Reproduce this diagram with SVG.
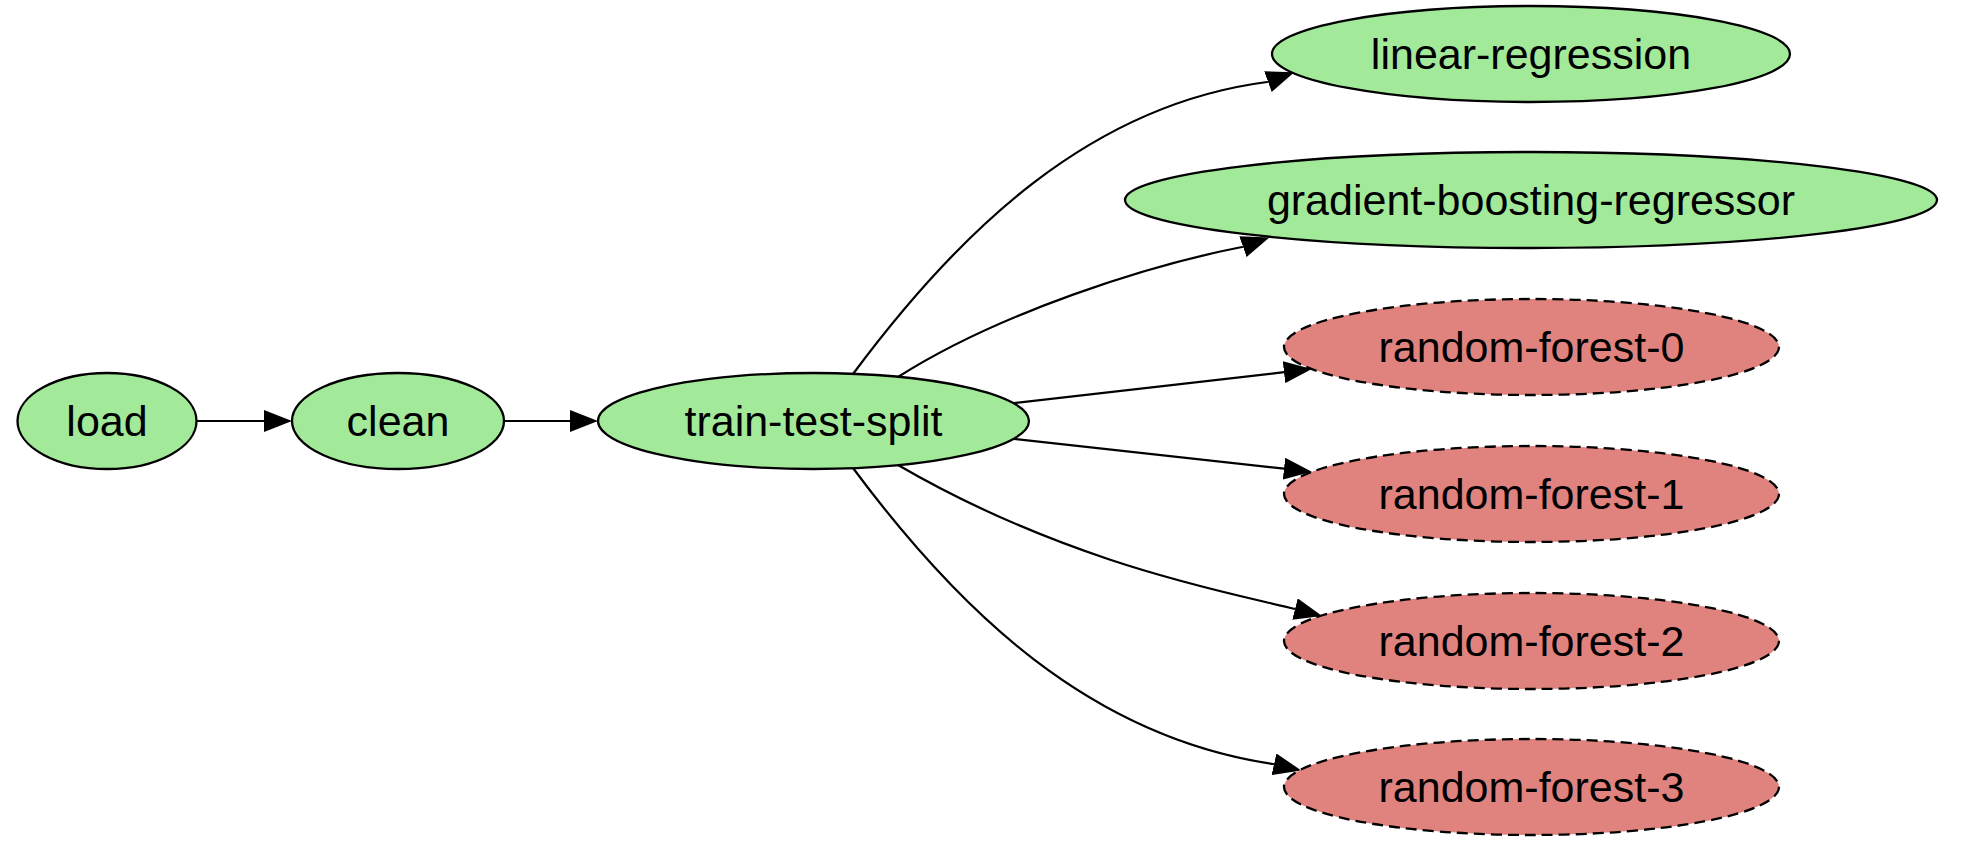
<svg xmlns="http://www.w3.org/2000/svg" width="1978" height="852" viewBox="0 0 1978 852">
<style>
.n ellipse{stroke:#000;stroke-width:2.3}
.ok ellipse{fill:#a3e99a}
.bad ellipse{fill:#e0837f;stroke-dasharray:11 6}
.n text{font-family:"Liberation Sans",Arial,sans-serif;font-size:43px;fill:#000;text-anchor:middle}
.e path{fill:none;stroke:#000;stroke-width:2.2}
</style>
<defs>
<marker id="ah" viewBox="0 0 28 22" refX="0" refY="11" markerWidth="28" markerHeight="22" markerUnits="userSpaceOnUse" orient="auto">
<path d="M0,0 L28,11 L0,22 z" fill="#000"/>
</marker>
</defs>
<rect width="1978" height="852" fill="#fff"/>
<g id="edges" class="e">
<path d="M197,421 L264,421" marker-end="url(#ah)"/>
<path d="M504,421 L570,421" marker-end="url(#ah)"/>
<path d="M853,374 C960,230 1090,105 1267,82 L1267.94,81.66" marker-end="url(#ah)"/>
<path d="M898,377 C1000,312 1150,265 1242,247 L1242.94,246.67" marker-end="url(#ah)"/>
<path d="M1014,403 L1284,372.2" marker-end="url(#ah)"/>
<path d="M1014,439 L1284,468.7" marker-end="url(#ah)"/>
<path d="M898,465 C1072,566 1237,594 1295,609" marker-end="url(#ah)"/>
<path d="M853,468 C960,612 1090,737 1273,764 L1273.97,764.22" marker-end="url(#ah)"/>
</g>
<g id="load" class="n ok"><ellipse cx="107" cy="421" rx="89.5" ry="48"/><text x="107" y="436">load</text></g>
<g id="clean" class="n ok"><ellipse cx="398" cy="421" rx="106" ry="48"/><text x="398" y="436">clean</text></g>
<g id="train-test-split" class="n ok"><ellipse cx="813.5" cy="421" rx="215.5" ry="48"/><text x="813.5" y="436">train-test-split</text></g>
<g id="linear-regression" class="n ok"><ellipse cx="1531" cy="54" rx="259" ry="48"/><text x="1531" y="69">linear-regression</text></g>
<g id="gradient-boosting-regressor" class="n ok"><ellipse cx="1531" cy="200" rx="406" ry="48"/><text x="1531" y="215">gradient-boosting-regressor</text></g>
<g id="random-forest-0" class="n bad"><ellipse cx="1531.5" cy="347" rx="247.5" ry="48"/><text x="1531.5" y="362">random-forest-0</text></g>
<g id="random-forest-1" class="n bad"><ellipse cx="1531.5" cy="494" rx="247.5" ry="48"/><text x="1531.5" y="509">random-forest-1</text></g>
<g id="random-forest-2" class="n bad"><ellipse cx="1531.5" cy="641" rx="247.5" ry="48"/><text x="1531.5" y="656">random-forest-2</text></g>
<g id="random-forest-3" class="n bad"><ellipse cx="1531.5" cy="787" rx="247.5" ry="48"/><text x="1531.5" y="802">random-forest-3</text></g>
</svg>
